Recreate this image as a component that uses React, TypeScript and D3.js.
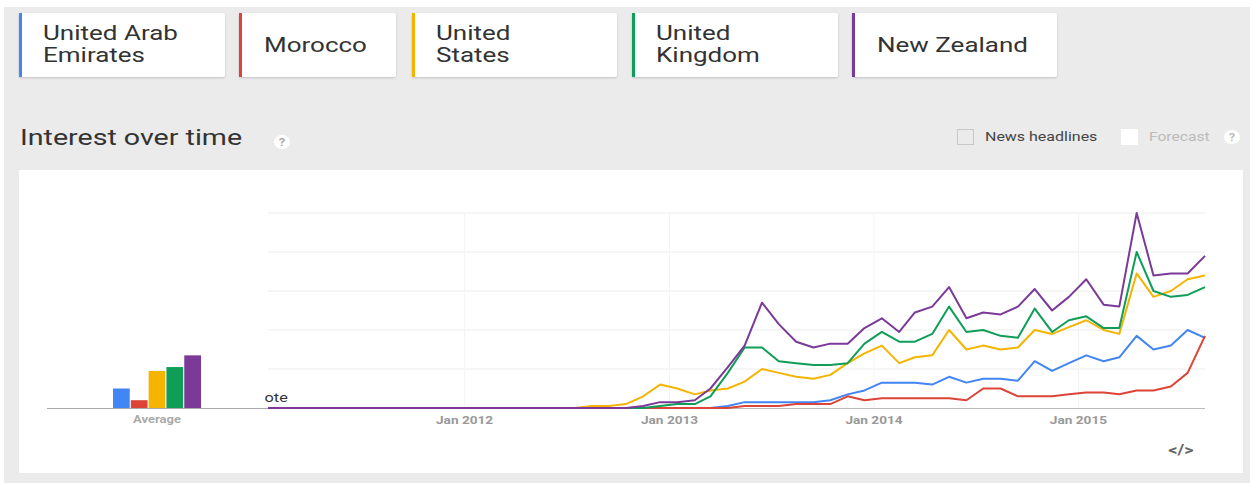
import React from "react";
import * as d3 from "d3";

const seriesNames = ["United Arab Emirates", "Morocco", "United States", "United Kingdom", "New Zealand"];
const legendLines = [["United Arab", "Emirates"], ["Morocco"], ["United", "States"], ["United", "Kingdom"], ["New Zealand"]];
const colors = ["#4285f4", "#db4437", "#f4b400", "#0f9d58", "#7b3a98"];

const z = (n: number) => new Array(n).fill(0);
const uae = [...z(27), 1, 3, 3, 3, 3, 3, 4, 7, 9, 13, 13, 13, 12, 16, 13, 15, 15, 14, 24, 19, 23, 27, 24, 26, 37, 30, 32, 40, 36];
const morocco = [...z(28), 1, 1, 1, 2, 2, 2, 6, 4, 5, 5, 5, 5, 5, 4, 10, 10, 6, 6, 6, 7, 8, 8, 7, 9, 9, 11, 18, 37];
const us = [...z(19), 1, 1, 2, 6, 12, 10, 7, 9, 10, 13.5, 20, 18, 16, 15, 17, 23, 28, 32, 23, 26, 27, 40, 30, 32, 30, 31, 40, 38, 41.5, 45, 40, 38, 69, 57, 60, 66, 68];
const uk = [...z(23), 1, 2, 2, 6, 18, 31, 31, 24, 23, 22, 22, 23, 33, 39, 34, 34, 38, 52, 39, 40, 37, 36, 51, 39, 45, 47, 41, 41, 80, 60, 57, 58, 62];
const nz = [...z(22), 1, 3, 3, 4, 10, 21, 32, 54, 43, 34, 31, 33, 33, 41, 46, 39, 49, 52, 62, 46, 49, 48, 52, 61, 50, 57, 66, 53, 52, 100, 68, 69, 69, 78];
const seriesValues = [uae, morocco, us, uk, nz];
const averages = [10, 4, 19, 21, 27];

const startYear = 2011;
const months = uae.map((_, i) => new Date(startYear, i, 15));
const tickYears = [2012, 2013, 2014, 2015];
const yTicks = [0, 20, 40, 60, 80, 100];

const FONT = "Roboto, 'Noto Sans', sans-serif";
const SX = 1.3;

function ST(props: { x: number; y: number; size: number; fill: string; anchor?: string; weight?: string | number; children: React.ReactNode }) {
  return (
    <text
      transform={`translate(${props.x},${props.y}) scale(${SX},1)`}
      fontFamily={FONT}
      fontSize={props.size}
      fill={props.fill}
      textAnchor={props.anchor || "start"}
      fontWeight={props.weight || "normal"}
    >
      {props.children}
    </text>
  );
}

export default function App() {
  const W = 1250, H = 483;
  const x = d3.scaleTime().domain([months[0], months[months.length - 1]]).range([268, 1205]);
  const y = d3.scaleLinear().domain([0, 100]).range([408, 213]);
  const band = d3.scaleBand<string>().domain(seriesNames).range([113, 201]).paddingInner(0.06);
  const line = d3.line<number>().x((_, i) => x(months[i])).y((v) => y(v));

  const cards = [
    [19, 206], [239, 157], [412, 205], [632, 206], [852, 205],
  ];

  return (
    <div style={{ position: "absolute", left: 0, top: 0 }}>
      <svg width={W} height={H} style={{ display: "block" }}>
        <defs>
          <filter id="sh" x="-5%" y="-10%" width="110%" height="130%">
            <feDropShadow dx="0" dy="1" stdDeviation="0.8" floodColor="#000" floodOpacity="0.18" />
          </filter>
          <clipPath id="noteClip">
            <rect x={265} y={380} width={40} height={30} />
          </clipPath>
        </defs>
        <rect x={0} y={0} width={W} height={H} fill="#fff" />
        <rect x={4} y={7} width={W - 4} height={H - 7} fill="#ebebeb" />

        {cards.map(([cx, cw], i) => {
          const lines = legendLines[i];
          return (
            <g key={i}>
              <rect x={cx} y={13} width={cw} height={64} rx={2} fill="#fff" filter="url(#sh)" />
              <rect x={cx} y={13} width={3} height={64} fill={colors[i]} />
              {lines.length === 2 ? (
                <>
                  <ST x={cx + 24} y={40} size={20} fill="#333">{lines[0]}</ST>
                  <ST x={cx + 24} y={62} size={20} fill="#333">{lines[1]}</ST>
                </>
              ) : (
                <ST x={cx + 25} y={52} size={20} fill="#333">{lines[0]}</ST>
              )}
            </g>
          );
        })}

        <ST x={20} y={145} size={22} fill="#333">Interest over time</ST>
        <ellipse cx={282} cy={142} rx={8} ry={7} fill="#fff" />
        <ST x={282} y={146} size={10} fill="#aaa" anchor="middle" weight="bold">?</ST>

        <rect x={957.5} y={129.5} width={16} height={15} fill="#ebebeb" stroke="#c8c8c8" />
        <ST x={985} y={141} size={12.3} fill="#444">News headlines</ST>
        <rect x={1121} y={129} width={17} height={16} fill="#fff" />
        <ST x={1149} y={141} size={12} fill="#bbb">Forecast</ST>
        <ellipse cx={1232} cy={137} rx={8} ry={7} fill="#fff" />
        <ST x={1232} y={141} size={10} fill="#bbb" anchor="middle" weight="bold">?</ST>

        <rect x={19} y={170} width={1224} height={303} fill="#fff" />

        {yTicks.filter((t) => t > 0).map((t) => (
          <line key={t} x1={268} x2={1205} y1={y(t)} y2={y(t)} stroke="#ececec" strokeWidth={1} />
        ))}
        {tickYears.map((yr) => (
          <line key={yr} x1={x(new Date(yr, 0, 1))} x2={x(new Date(yr, 0, 1))} y1={y(0)} y2={y(100)} stroke="#f3f3f3" strokeWidth={1} />
        ))}

        <g clipPath="url(#noteClip)">
          <ST x={253} y={402} size={12.5} fill="#333">Note</ST>
        </g>

        <line x1={47} x2={268} y1={y(0) + 0.5} y2={y(0) + 0.5} stroke="#aaa" />
        <line x1={268} x2={1205} y1={y(0) + 0.5} y2={y(0) + 0.5} stroke="#bbb" />

        {seriesNames.map((n, i) => (
          <rect key={n} x={band(n)} y={y(averages[i])} width={band.bandwidth()} height={y(0) - y(averages[i])} fill={colors[i]} />
        ))}
        <ST x={157} y={423} size={10} fill="#aaa" anchor="middle" weight="bold">Average</ST>

        {seriesValues.map((vals, i) => (
          <path key={i} d={line(vals) || ""} fill="none" stroke={colors[i]} strokeWidth={2} strokeLinejoin="round" />
        ))}

        {tickYears.map((yr) => (
          <ST key={yr} x={x(new Date(yr, 0, 1))} y={424} size={10.5} fill="#999" anchor="middle" weight="bold">{`Jan ${yr}`}</ST>
        ))}

        <ST x={1181} y={455} size={14} fill="#666" anchor="middle" weight="bold">&lt;/&gt;</ST>
      </svg>
    </div>
  );
}
